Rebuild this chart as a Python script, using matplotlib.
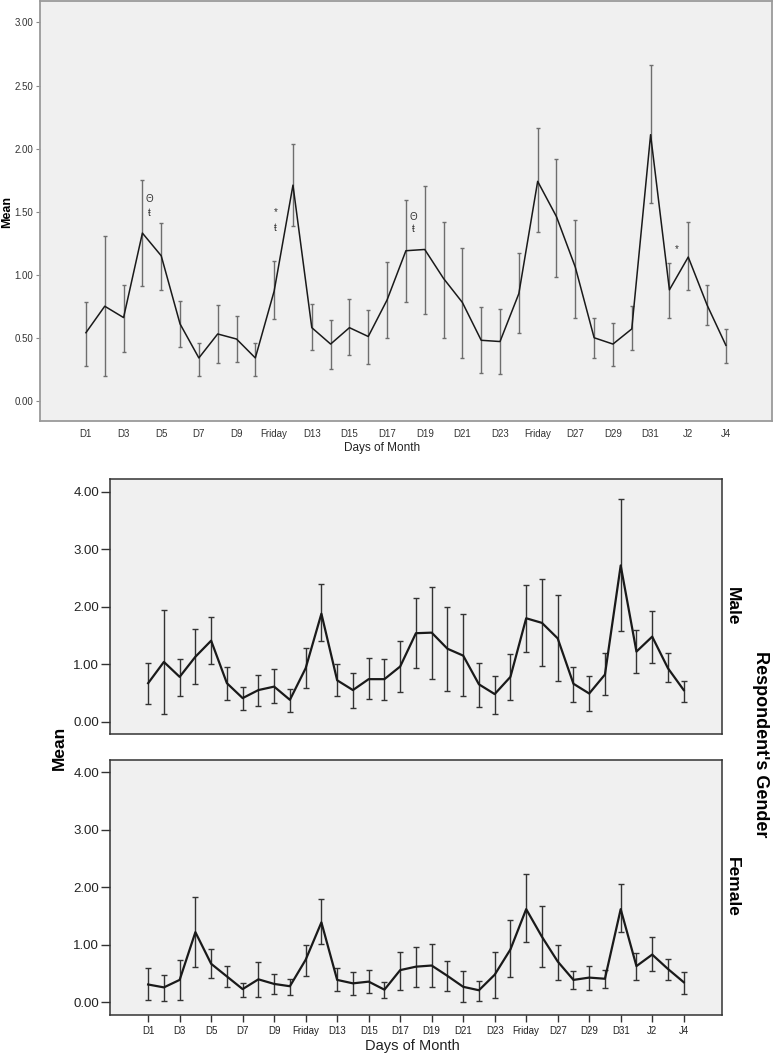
import numpy as np
import matplotlib.pyplot as plt

plt.rcParams['font.family'] = ['Liberation Sans', 'DejaVu Sans']

# 35 days: D1..D31 then J1..J4 (ticks every other day)
days = [f"D{i}" for i in range(1, 32)] + [f"J{i}" for i in range(1, 5)]
tick_labels = ["D1", "D3", "D5", "D7", "D9", "Friday", "D13", "D15", "D17", "D19",
               "D21", "D23", "Friday", "D27", "D29", "D31", "J2", "J4"]

# overall means with 95% CI
all_mean = [0.54, 0.75, 0.66, 1.33, 1.15, 0.61, 0.34, 0.53, 0.49, 0.34,
            0.87, 1.71, 0.58, 0.45, 0.58, 0.51, 0.80, 1.19, 1.20, 0.97,
            0.78, 0.48, 0.47, 0.85, 1.74, 1.46, 1.06, 0.50, 0.45, 0.57,
            2.11, 0.88, 1.14, 0.76, 0.44]
all_lo = [0.28, 0.20, 0.39, 0.91, 0.88, 0.43, 0.20, 0.30, 0.31, 0.20,
          0.65, 1.39, 0.40, 0.25, 0.36, 0.29, 0.50, 0.78, 0.69, 0.50,
          0.34, 0.22, 0.21, 0.54, 1.34, 0.98, 0.66, 0.34, 0.28, 0.40,
          1.57, 0.66, 0.88, 0.60, 0.30]
all_hi = [0.78, 1.31, 0.92, 1.75, 1.41, 0.79, 0.46, 0.76, 0.67, 0.46,
          1.11, 2.04, 0.77, 0.64, 0.81, 0.72, 1.10, 1.59, 1.70, 1.42,
          1.21, 0.74, 0.73, 1.17, 2.16, 1.92, 1.43, 0.66, 0.62, 0.75,
          2.66, 1.09, 1.42, 0.92, 0.57]

male_mean = [0.67, 1.04, 0.78, 1.13, 1.41, 0.67, 0.41, 0.55, 0.61, 0.38,
             0.93, 1.88, 0.72, 0.55, 0.74, 0.74, 0.96, 1.54, 1.55, 1.27,
             1.15, 0.65, 0.48, 0.78, 1.80, 1.72, 1.45, 0.66, 0.49, 0.82,
             2.72, 1.22, 1.48, 0.93, 0.55]
male_lo = [0.30, 0.13, 0.44, 0.66, 1.00, 0.38, 0.20, 0.28, 0.33, 0.17,
           0.59, 1.41, 0.44, 0.23, 0.39, 0.38, 0.52, 0.93, 0.75, 0.54,
           0.44, 0.26, 0.13, 0.38, 1.22, 0.97, 0.70, 0.35, 0.18, 0.47,
           1.58, 0.84, 1.03, 0.69, 0.34]
male_hi = [1.02, 1.95, 1.09, 1.61, 1.83, 0.96, 0.60, 0.82, 0.92, 0.57,
           1.29, 2.40, 1.01, 0.84, 1.10, 1.09, 1.41, 2.15, 2.34, 1.99,
           1.87, 1.03, 0.79, 1.18, 2.38, 2.49, 2.21, 0.95, 0.79, 1.19,
           3.88, 1.59, 1.93, 1.19, 0.70]

female_mean = [0.31, 0.26, 0.39, 1.22, 0.67, 0.45, 0.23, 0.40, 0.32, 0.28,
               0.74, 1.39, 0.39, 0.33, 0.36, 0.22, 0.56, 0.62, 0.64, 0.46,
               0.27, 0.21, 0.48, 0.92, 1.62, 1.14, 0.71, 0.39, 0.43, 0.41,
               1.62, 0.63, 0.83, 0.58, 0.35]
female_lo = [0.04, 0.03, 0.04, 0.61, 0.43, 0.27, 0.09, 0.10, 0.14, 0.13,
             0.46, 1.01, 0.20, 0.12, 0.17, 0.07, 0.21, 0.26, 0.27, 0.20,
             0.00, 0.03, 0.08, 0.44, 1.05, 0.62, 0.39, 0.23, 0.21, 0.25,
             1.22, 0.39, 0.54, 0.39, 0.15]
female_hi = [0.59, 0.48, 0.73, 1.83, 0.92, 0.63, 0.34, 0.70, 0.50, 0.41,
             1.00, 1.79, 0.59, 0.53, 0.56, 0.35, 0.88, 0.97, 1.02, 0.72,
             0.55, 0.37, 0.87, 1.44, 2.23, 1.68, 1.00, 0.54, 0.64, 0.57,
             2.05, 0.85, 1.14, 0.75, 0.52]

# significance markers: (day index offset, value, symbol)
marks = [(3.36, 1.60, "Θ"), (3.36, 1.49, "ŧ"),
         (10.08, 1.50, "*"), (10.08, 1.37, "ŧ"),
         (17.37, 1.46, "Θ"), (17.37, 1.36, "ŧ"),
         (31.4, 1.20, "*")]

x = np.arange(len(days))
bg = '#f0f0f0'
W, H = 773, 1058


def draw(ax, mean, lo, hi, ecol, lw, cap):
    mean = np.array(mean)
    yerr = [mean - np.array(lo), np.array(hi) - mean]
    ax.errorbar(x, mean, yerr=yerr, fmt='none', ecolor=ecol, elinewidth=1,
                capsize=cap, capthick=1)
    ax.plot(x, mean, color='#1a1a1a', lw=lw)
    ax.set_facecolor(bg)
    ax.set_xlim(-2.44, 36.45)
    ax.set_xticks(x[::2])


fig = plt.figure(figsize=(W / 100, H / 100), dpi=100)

# top panel
ax = fig.add_axes([40 / W, 1 - 421 / H, 732 / W, 420 / H])
draw(ax, all_mean, all_lo, all_hi, '#6e6e6e', 1.1, 1.6)
ax.set_ylim(-0.16, 3.17)
ax.set_yticks([0, 0.5, 1, 1.5, 2, 2.5, 3])
ax.set_yticklabels([f"{v:.2f}" for v in [0, 0.5, 1, 1.5, 2, 2.5, 3]])
ax.set_xticklabels(tick_labels)
ax.tick_params(axis='x', length=0, pad=6, labelsize=7, colors='#333333')
ax.tick_params(axis='y', length=3, width=0.8, pad=2, labelsize=7,
               colors='#333333', color='#888888')
for s in ax.spines.values():
    s.set_color('#9a9a9a')
    s.set_linewidth(1.3)
for mx, my, sym in marks:
    ax.text(mx, my, sym, fontsize=7, ha='center', va='center', color='#333333')
fig.text(382 / W, 1 - 448 / H, "Days of Month", fontsize=8.5, color='#222222',
         ha='center', va='center')
fig.text(7 / W, 1 - 212 / H, "Mean", rotation=90, fontsize=9,
         fontweight='bold', ha='center', va='center')

# gender panels
panels = [("Male", male_mean, male_lo, male_hi, 479.3, 734.0),
          ("Female", female_mean, female_lo, female_hi, 759.6, 1014.7)]
for i, (name, m, lo, hi, top, bot) in enumerate(panels):
    a = fig.add_axes([109.7 / W, 1 - bot / H, 612.6 / W, (bot - top) / H])
    draw(a, m, lo, hi, '#333333', 1.6, 2.2)
    a.set_ylim(-0.215, 4.22)
    a.set_yticks([0, 1, 2, 3, 4])
    a.set_yticklabels([f"{v:.2f}" for v in [0, 1, 2, 3, 4]])
    a.tick_params(axis='y', length=6.5, width=1, pad=1, labelsize=9.5,
                  colors='#222222', color='#333333')
    a.tick_params(axis='x', length=4.8, width=1, pad=3, labelsize=7,
                  colors='#222222', color='#333333')
    for s in a.spines.values():
        s.set_color('#333333')
        s.set_linewidth(1.1)
    if i == 0:
        a.set_xticklabels([])
        a.tick_params(axis='x', length=0)
    else:
        a.set_xticklabels(tick_labels)
    fig.text(732 / W, 1 - (top + bot) / 2 / H, name, rotation=-90,
             fontsize=12.5, fontweight='bold', ha='center', va='center')

fig.text(412 / W, 1 - 1046 / H, "Days of Month", fontsize=10.5, color='#222222',
         ha='center', va='center')
fig.text(59 / W, 1 - 748 / H, "Mean", rotation=90, fontsize=12.5,
         fontweight='bold', ha='center', va='center')
fig.text(760 / W, 1 - 744 / H, "Respondent's Gender", rotation=-90,
         fontsize=13, fontweight='bold', ha='center', va='center')

fig.savefig("out.png", dpi=100)
